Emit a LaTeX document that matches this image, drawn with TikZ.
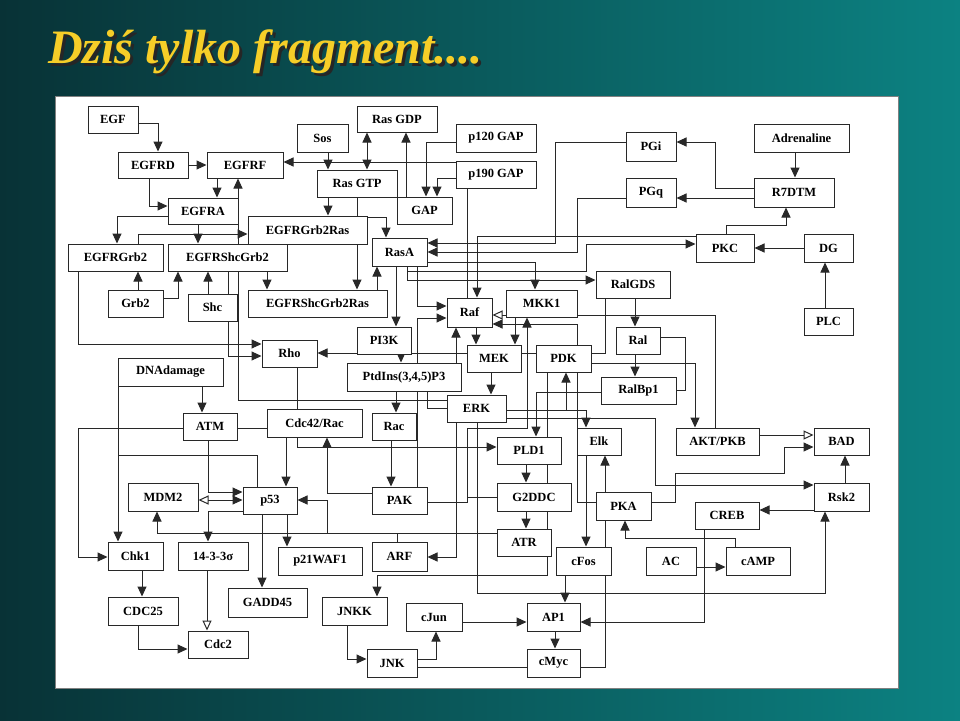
\documentclass[tikz,border=0pt]{standalone}
\usepackage{fontspec}
\setmainfont{Liberation Serif}
\usetikzlibrary{arrows.meta,backgrounds}
\pgfdeclarelayer{back}
\pgfdeclarelayer{wires}
\pgfsetlayers{back,wires,main}
\definecolor{tealdark}{RGB}{8,50,54}
\definecolor{teallight}{RGB}{12,130,130}
\definecolor{titleyellow}{RGB}{246,206,40}
\definecolor{wire}{RGB}{40,40,40}
\tikzset{
	box/.style 2 args={draw=wire, fill=white, line width=1pt, minimum width=#1, minimum height=#2, inner sep=0pt, font=\fontsize{12.5}{13}\selectfont\bfseries}, % one protein, size in px
	ln/.style={draw=wire, line width=1pt},
	arr/.style={ln, -{Triangle[length=10pt,width=9pt]}},
	inh/.style={ln, -{Triangle[open,length=10pt,width=9pt]}},
	dbl/.style={ln, {Triangle[length=10pt,width=9pt]}-{Triangle[length=10pt,width=9pt]}}
}
\begin{document}
\begin{tikzpicture}[x=1pt,y=-1pt]
	\useasboundingbox (0,0) rectangle (960,720);
	\begin{pgfonlayer}{back}
		\shade[left color=tealdark, right color=teallight] (0,0) rectangle (960,720);
		\fill[white] (55,96) rectangle (898,688);
		\draw[black!50] (55,96) rectangle (898,688);
		% title shadow
		\node[anchor=base west, font=\fontsize{48}{52}\selectfont\bfseries\itshape, text=black!85, inner sep=0pt] at (51,66) {Dziś tylko fragment....};
	\end{pgfonlayer}
	% title
	\node[anchor=base west, font=\fontsize{48}{52}\selectfont\bfseries\itshape, text=titleyellow, inner sep=0pt] (title) at (48,63) {Dziś tylko fragment....};

	% receptor part
	\node[box={50}{27}] (EGF) at (113,119.5) {EGF};
	\node[box={70}{26}] (EGFRD) at (153,165) {EGFRD};
	\node[box={76}{26}] (EGFRF) at (245,165) {EGFRF};
	\node[box={51}{28}] (Sos) at (322.5,138) {Sos};
	\node[box={80}{26}] (RasGDP) at (397,119) {Ras GDP};
	\node[box={80}{27}] (RasGTP) at (357,183.5) {Ras GTP};
	\node[box={80}{28}] (p120GAP) at (496,138) {p120 GAP};
	\node[box={80}{27}] (p190GAP) at (496,174.5) {p190 GAP};
	\node[box={55}{27}] (GAP) at (424.5,210.5) {GAP};
	\node[box={70}{26}] (EGFRA) at (203,211) {EGFRA};
	\node[box={119}{28}] (EGFRGrb2Ras) at (307.5,230) {EGFRGrb2Ras};
	\node[box={95}{27}] (EGFRGrb2) at (115.5,257.5) {EGFRGrb2};
	\node[box={119}{27}] (EGFRShcGrb2) at (227.5,257.5) {EGFRShcGrb2};
	\node[box={55}{27}] (Grb2) at (135.5,303.5) {Grb2};
	\node[box={49}{27}] (Shc) at (212.5,307.5) {Shc};
	\node[box={139}{27}] (EGFRShcGrb2Ras) at (317.5,303.5) {EGFRShcGrb2Ras};
	\node[box={55}{28}] (RasA) at (399.5,252) {RasA};
	\node[box={45}{29}] (Raf) at (469.5,312.5) {Raf};
	\node[box={71}{27}] (MKK1) at (541.5,303.5) {MKK1};
	% right part
	\node[box={50}{29}] (PGi) at (651,146.5) {PGi};
	\node[box={95}{28}] (Adrenaline) at (801.5,138) {Adrenaline};
	\node[box={80}{29}] (R7DTM) at (794,192.5) {R7DTM};
	\node[box={50}{29}] (PGq) at (651,192.5) {PGq};
	\node[box={58}{28}] (PKC) at (725,248) {PKC};
	\node[box={49}{28}] (DG) at (828.5,248) {DG};
	\node[box={74}{27}] (RalGDS) at (633,284.5) {RalGDS};
	\node[box={49}{27}] (PLC) at (828.5,321.5) {PLC};
	\node[box={44}{27}] (Ral) at (638,340.5) {Ral};
	\node[box={55}{27}] (PDK) at (563.5,358.5) {PDK};
	\node[box={75}{27}] (RalBp1) at (638.5,390.5) {RalBp1};
	\node[box={44}{27}] (Elk) at (599,441.5) {Elk};
	\node[box={83}{27}] (AKT) at (717.5,441.5) {AKT/PKB};
	\node[box={55}{27}] (BAD) at (841.5,441.5) {BAD};
	\node[box={55}{28}] (Rsk2) at (841.5,497) {Rsk2};
	\node[box={55}{28}] (PKA) at (623.5,506) {PKA};
	\node[box={64}{27}] (CREB) at (727,515.5) {CREB};
	\node[box={50}{28}] (AC) at (671,561) {AC};
	\node[box={64}{28}] (cAMP) at (758,561) {cAMP};
	\node[box={55}{28}] (cFos) at (583.5,561) {cFos};
	% middle part
	\node[box={54}{27}] (PI3K) at (384,340.5) {PI3K};
	\node[box={54}{27}] (MEK) at (494,358.5) {MEK};
	\node[box={114}{28}] (PIP3) at (404,377) {PtdIns(3,4,5)P3};
	\node[box={59}{27}] (ERK) at (476.5,408.5) {ERK};
	\node[box={44}{27}] (Rac) at (394,426.5) {Rac};
	\node[box={64}{27}] (PLD1) at (529,450.5) {PLD1};
	\node[box={55}{27}] (PAK) at (399.5,500.5) {PAK};
	\node[box={74}{28}] (G2DDC) at (534,497) {G2DDC};
	\node[box={54}{27}] (ATR) at (524,542.5) {ATR};
	\node[box={55}{29}] (ARF) at (399.5,556.5) {ARF};
	\node[box={84}{28}] (p21) at (320,561) {p21WAF1};
	\node[box={65}{28}] (JNKK) at (354.5,611) {JNKK};
	\node[box={56}{28}] (cJun) at (434,617) {cJun};
	\node[box={53}{28}] (AP1) at (553.5,617) {AP1};
	\node[box={50}{28}] (JNK) at (392,663) {JNK};
	\node[box={53}{28}] (cMyc) at (553.5,663) {cMyc};
	% left part
	\node[box={55}{27}] (Rho) at (289.5,353.5) {Rho};
	\node[box={105}{28}] (DNAdamage) at (170.5,372) {DNAdamage};
	\node[box={54}{27}] (ATM) at (210,426.5) {ATM};
	\node[box={95}{28}] (Cdc42) at (314.5,423) {Cdc42/Rac};
	\node[box={70}{28}] (MDM2) at (163,497) {MDM2};
	\node[box={54}{27}] (p53) at (270,500.5) {p53};
	\node[box={55}{28}] (Chk1) at (135.5,556) {Chk1};
	\node[box={70}{28}] (s1433) at (213,556) {14-3-3σ};
	\node[box={79}{29}] (GADD45) at (267.5,602.5) {GADD45};
	\node[box={70}{28}] (CDC25) at (143,611) {CDC25};
	\node[box={60}{27}] (Cdc2) at (218,644.5) {Cdc2};

	\begin{pgfonlayer}{wires}
		\draw[arr] (EGF.east |- 0,123) -| (158,0 |- EGFRD.north);
		\draw[arr] (EGFRD.east) -- (EGFRF.west);
		\draw[arr] (149,0 |- EGFRD.south) |- (EGFRA.west |- 0,206);
		\draw[arr] (217,0 |- EGFRF.south) -- (217,0 |- EGFRA.north);
		\draw[arr] (ERK.west |- 0,400) -| (238,0 |- EGFRF.south);
		\draw[arr] (EGFRA.west |- 0,216) -| (117,0 |- EGFRGrb2.north);
		\draw[arr] (198,0 |- EGFRA.south) -- (198,0 |- EGFRShcGrb2.north);
		\draw[arr] (138,0 |- EGFRGrb2.north) |- (EGFRGrb2Ras.west |- 0,234);
		\draw[arr] (328,0 |- Sos.south) -- (328,0 |- RasGTP.north);
		\draw[arr] (p190GAP.west |- 0,162) -- (EGFRF.east |- 0,162);
		\draw[dbl] (367,0 |- RasGDP.south) -- (367,0 |- RasGTP.north);
		\draw[arr] (406,0 |- GAP.north) -- (406,0 |- RasGDP.south);
		\draw[arr] (328,0 |- RasGTP.south) -- (328,0 |- EGFRGrb2Ras.north);
		\draw[arr] (357,0 |- RasGTP.south) -- (357,217) -| (386,0 |- RasA.north);
		\draw[arr] (357,0 |- EGFRGrb2Ras.south) -- (357,0 |- EGFRShcGrb2Ras.north);
		\draw[arr] (377,0 |- EGFRShcGrb2Ras.north) -- (377,0 |- RasA.south);
		\draw[arr] (p120GAP.west |- 0,142) -| (426,0 |- GAP.north);
		\draw[arr] (p190GAP.west |- 0,178) -| (437,0 |- GAP.north);
		\draw[arr] (138,0 |- Grb2.north) -- (138,0 |- EGFRGrb2.south);
		\draw[arr] (Grb2.east |- 0,298) -| (178,0 |- EGFRShcGrb2.south);
		\draw[arr] (208,0 |- Shc.north) -- (208,0 |- EGFRShcGrb2.south);
		\draw[arr] (267,0 |- EGFRShcGrb2.south) -- (267,0 |- EGFRShcGrb2Ras.north);
		\draw[arr] (78,0 |- EGFRGrb2.south) |- (Rho.west |- 0,344);
		\draw[arr] (228,0 |- EGFRShcGrb2.south) |- (Rho.west |- 0,356);
		\draw[arr] (605,0 |- RalGDS.south) |- (Rho.east |- 0,353);
		% DNA damage
		\draw[ln] (297,0 |- Rho.south) -- (297,0 |- Cdc42.north);
		\draw[ln] (ATM.east |- 0,428) -- (Cdc42.west |- 0,428);
		\draw[arr] (ATM.west |- 0,428) -- (78,428) |- (Chk1.west |- 0,557);
		\draw[arr] (202,0 |- DNAdamage.south) -- (202,0 |- ATM.north);
		\draw[arr] (118,0 |- DNAdamage.south) -- (118,0 |- Chk1.north);
		\draw[ln] (118,455) -| (257,0 |- p53.north);
		\draw[arr] (208,0 |- ATM.south) |- (p53.west |- 0,492);
		\draw[ln, {Triangle[open,length=10pt,width=9pt]}-{Triangle[length=10pt,width=9pt]}] (MDM2.east |- 0,500) -- (p53.west |- 0,500);
		\draw[arr] (286,0 |- Cdc42.south) -- (286,0 |- p53.north);
		\draw[arr] (ATR.west |- 0,533) -| (157,0 |- MDM2.south);
		\draw[arr] (397,0 |- ARF.north) |- (327,533) |- (p53.east |- 0,500);
		\draw[arr] (PAK.west |- 0,493) -| (327,0 |- Cdc42.south);
		\draw[arr] (p53.west |- 0,511) -| (208,0 |- s1433.north);
		\draw[arr] (262,0 |- p53.south) -- (262,0 |- GADD45.north);
		\draw[arr] (287,0 |- p53.south) -- (287,0 |- p21.north);
		\draw[arr] (142,0 |- Chk1.south) -- (142,0 |- CDC25.north);
		\draw[inh] (207,0 |- s1433.south) -- (207,0 |- Cdc2.north);
		\draw[arr] (138,0 |- CDC25.south) |- (Cdc2.west |- 0,649);
		% adrenaline and PKC
		\draw[arr] (795,0 |- Adrenaline.south) -- (795,0 |- R7DTM.north);
		\draw[arr] (R7DTM.west |- 0,188) -- (715,188) |- (PGi.east |- 0,142);
		\draw[arr] (R7DTM.west |- 0,198) -- (PGq.east |- 0,198);
		\draw[arr] (726,0 |- PKC.north) -- (726,225) -| (786,0 |- R7DTM.south);
		\draw[arr] (DG.west |- 0,248) -- (PKC.east |- 0,248);
		\draw[arr] (825,0 |- PLC.north) -- (825,0 |- DG.south);
		\draw[arr] (PGi.west |- 0,142) -- (555,142) |- (RasA.east |- 0,243);
		\draw[arr] (PGq.west |- 0,198) -- (577,198) |- (RasA.east |- 0,252);
		\draw[arr] (PKC.west |- 0,236) -| (477,0 |- Raf.north);
		% Ras and Raf
		\draw[arr] (RasA.east |- 0,262) -| (535,0 |- MKK1.north);
		\draw[arr] (407,0 |- RasA.south) |- (586,271) |- (PKC.west |- 0,244);
		\draw[arr] (407,0 |- RasA.south) |- (RalGDS.west |- 0,280);
		\draw[arr] (396,0 |- RasA.south) -- (396,0 |- PI3K.north);
		\draw[arr] (417,0 |- RasA.south) |- (Raf.west |- 0,306);
		\draw[arr] (417,0 |- PAK.north) |- (Raf.west |- 0,318);
		\draw[ln] (467,0 |- p190GAP.south) -- (467,0 |- Raf.north);
		\draw[inh] (715,0 |- AKT.north) |- (Raf.east |- 0,315);
		\draw[arr] (PKA.west |- 0,502) -- (577,502) |- (Raf.east |- 0,324);
		\draw[arr] (476,0 |- Raf.south) -- (476,0 |- MEK.north);
		\draw[arr] (515,0 |- MKK1.south) -- (515,0 |- MEK.north);
		\draw[arr] (PAK.east |- 0,502) -- (467,502) |- (527,428) -- (527,0 |- MKK1.south);
		\draw[ln] (467,497) -- (G2DDC.west |- 0,497);
		\draw[arr] (491,0 |- MEK.south) -- (491,0 |- ERK.north);
		% ERK targets
		\draw[arr] (ERK.east |- 0,410) -| (586,0 |- Elk.north);
		\draw[arr] (566,410) -- (566,0 |- PDK.south);
		\draw[arr] (ERK.east |- 0,418) -- (655,418) |- (Rsk2.west |- 0,485);
		\draw[arr] (456,0 |- ERK.south) |- (ARF.east |- 0,557);
		\draw[arr] (477,0 |- ERK.south) |- (825,593) -- (825,0 |- Rsk2.south);
		\draw[arr] (RalBp1.west |- 0,392) -| (536,0 |- PLD1.north);
		\draw[arr] (635,0 |- Ral.south) -- (635,0 |- RalBp1.north);
		\draw[arr] (635,0 |- RalGDS.south) -- (635,0 |- Ral.north);
		\draw[ln] (Ral.east |- 0,337) -- (685,337) |- (RalBp1.east |- 0,390);
		\draw[arr] (PDK.east |- 0,363) -| (695,0 |- AKT.north);
		\draw[arr] (605,0 |- PKA.north) -- (605,0 |- Elk.south);
		\draw[arr] (586,0 |- Elk.south) -- (586,0 |- cFos.north);
		\draw[arr] (735,0 |- cAMP.north) -- (735,538) -| (625,0 |- PKA.south);
		\draw[arr] (AC.east |- 0,567) -- (cAMP.west |- 0,567);
		\draw[arr] (PKA.east |- 0,502) -- (675,502) |- (784,473) |- (BAD.west |- 0,447);
		\draw[inh] (AKT.east |- 0,435) -- (BAD.west |- 0,435);
		\draw[arr] (845,0 |- Rsk2.north) -- (845,0 |- BAD.south);
		\draw[arr] (Rsk2.west |- 0,510) -- (CREB.east |- 0,510);
		\draw[arr] (704,0 |- CREB.south) |- (AP1.east |- 0,622);
		\draw[arr] (565,0 |- cFos.south) -- (565,0 |- AP1.north);
		\draw[arr] (cJun.east |- 0,622) -- (AP1.west |- 0,622);
		\draw[arr] (555,0 |- AP1.south) -- (555,0 |- cMyc.north);
		\draw[arr] (JNK.east |- 0,659) -| (436,0 |- cJun.south);
		\draw[ln] (JNK.east |- 0,667) -- (cMyc.west |- 0,667);
		\draw[arr] (347,0 |- JNKK.south) |- (JNK.west |- 0,659);
		\draw[arr] (547,0 |- PDK.south) -- (547,575) -| (377,0 |- JNKK.north);
		\draw[ln] (605,0 |- PKA.south) |- (cMyc.east |- 0,667);
		\draw[arr] (526,0 |- PLD1.south) -- (526,0 |- G2DDC.north);
		\draw[arr] (526,0 |- G2DDC.south) -- (526,0 |- ATR.north);
		% lipids and Rac
		\draw[arr] (391,0 |- Rac.south) -- (391,0 |- PAK.north);
		\draw[arr] (396,0 |- PIP3.south) -- (396,0 |- Rac.north);
		\draw[arr] (401,0 |- PI3K.south) -- (401,0 |- PIP3.north);
		\draw[arr] (456,0 |- PIP3.north) -- (456,0 |- Raf.south);
		\draw[ln] (427,0 |- PIP3.south) |- (ERK.west |- 0,408);
		\draw[arr] (297,0 |- Cdc42.south) |- (PLD1.west |- 0,447);
	\end{pgfonlayer}
\end{tikzpicture}
\end{document}
